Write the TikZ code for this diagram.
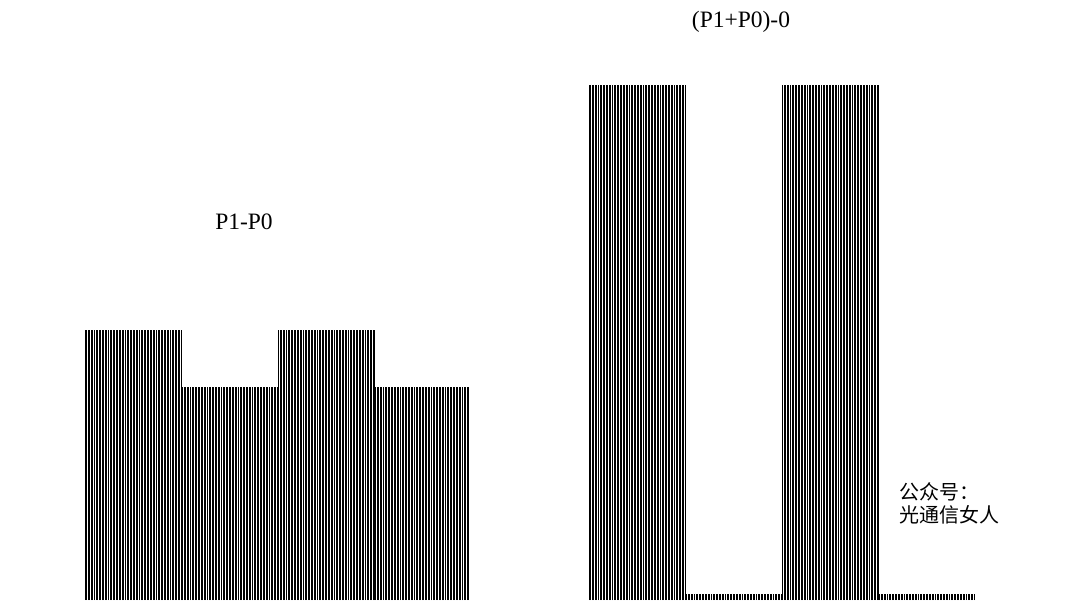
\documentclass[tikz,border=0pt]{standalone}
\usepackage{fontspec}
\setmainfont{Liberation Serif}
\newfontfamily\cjk{Noto Sans CJK SC}
\tikzset{
  wave/.style={line width=0.6pt,black,line cap=butt},
  title/.style={font=\fontsize{23.5}{25}\selectfont,inner sep=0pt},
  note/.style={font=\cjk\fontsize{20}{23}\selectfont,align=left,inner sep=0pt,anchor=north west},
}
% one burst of the carrier between x=#1 and x=#2, peak at y=#3
\newcommand{\burst}[3]{%
  \pgfmathsetmacro{\nextx}{#1+1.55}%
  \foreach \x in {#1,\nextx,...,#2} { \draw[wave] (\x,600) -- (\x,#3); }}

\begin{document}
\begin{tikzpicture}[x=1pt,y=-1pt]
  \useasboundingbox (0,0) rectangle (1080,608);
  % ---------------- P1-P0 ----------------
  \burst{85}{182}{330}
  \burst{182.5}{278}{387}
  \burst{278.5}{375}{330}
  \burst{375.5}{470}{387}
  \node[title] (lefttitle) at (244,222) {P1-P0};
  % ---------------- (P1+P0)-0 ----------------
  \burst{589}{686}{85}
  \burst{686.5}{782}{594}
  \burst{782.5}{879}{85}
  \burst{879.5}{975}{594}
  \node[title] (righttitle) at (741,22) {(P1+P0)-0};
  % ---------------- note ----------------
  \node[note] (mark) at (899,482) {公众号：\\光通信女人};
\end{tikzpicture}
\end{document}
